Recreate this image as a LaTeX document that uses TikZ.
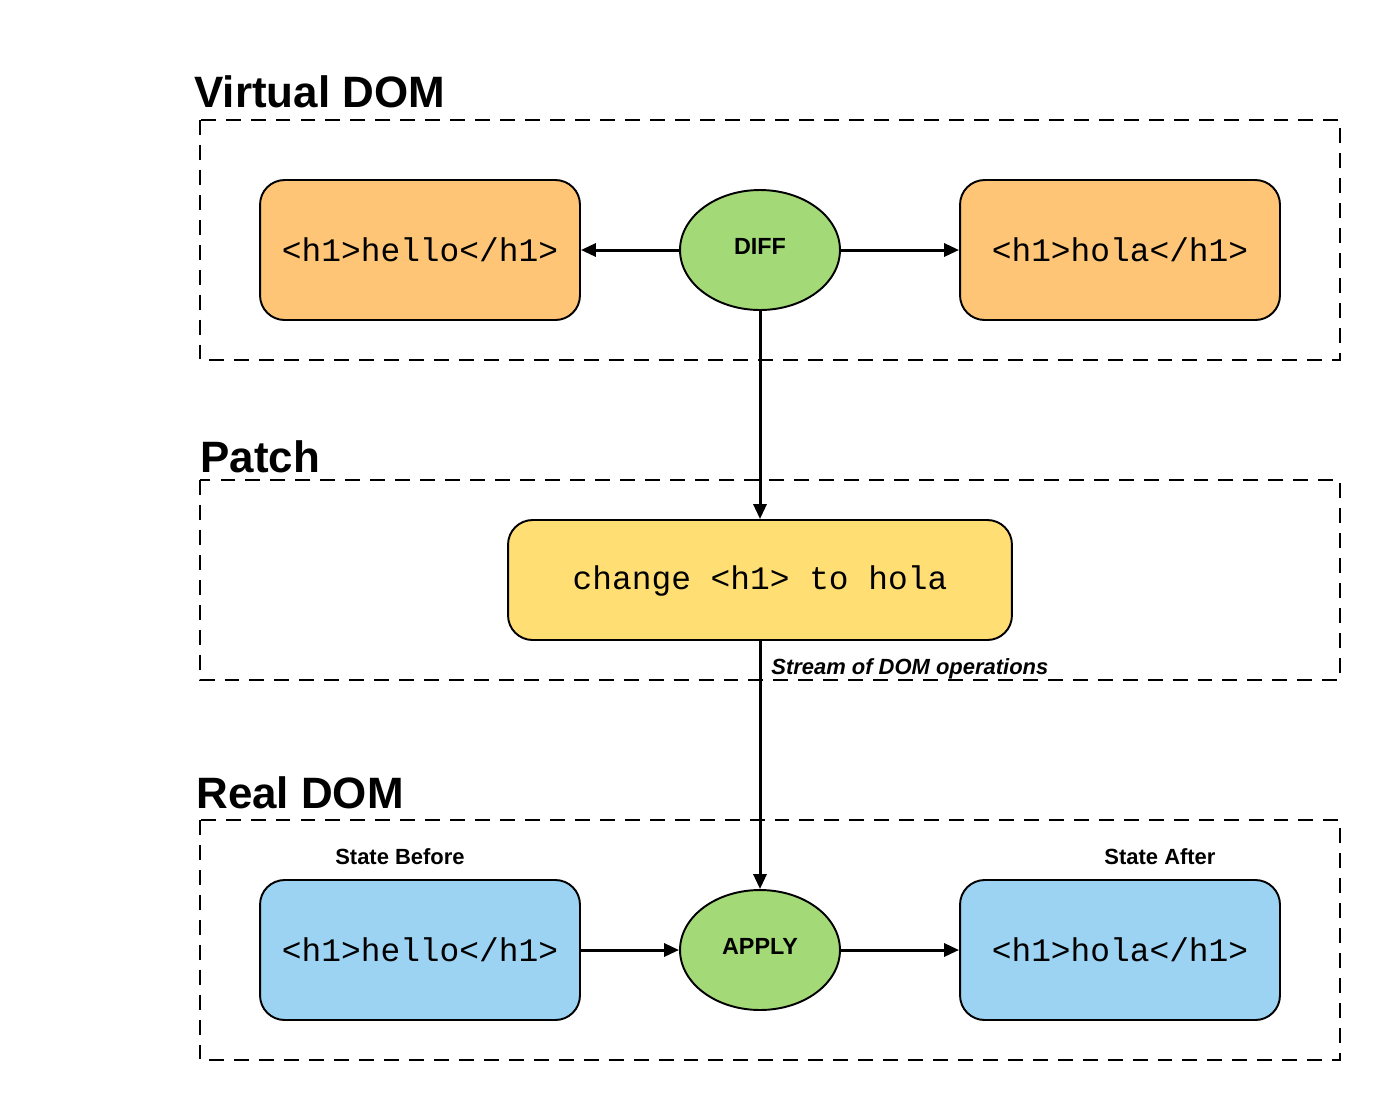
\documentclass[tikz,border=0pt]{standalone}
\usepackage{fontspec}
\setmainfont{Liberation Sans}
\setmonofont{Liberation Mono}
\usetikzlibrary{arrows.meta, shapes.geometric}

\definecolor{vdomorange}{HTML}{FEC576}
\definecolor{opgreen}{HTML}{A4D977}
\definecolor{patchyellow}{HTML}{FFDF73}
\definecolor{realblue}{HTML}{9DD3F2}

\tikzset{
  group/.style={draw=black, line width=1.1pt, dash pattern=on 8.5pt off 5.7pt},
  heading/.style={anchor=base west, font=\fontsize{25}{30}\selectfont\bfseries, inner sep=0pt},
  codebox/.style={draw=black, line width=1.1pt, rounded corners=14pt, minimum width=6.4cm, minimum height=2.8cm, font=\fontsize{18.7}{22}\ttfamily},
  opnode/.style={draw=black, ellipse, line width=1.1pt, fill=opgreen, minimum width=3.2cm, minimum height=2.4cm, inner sep=0pt, font=\fontsize{13.3}{16}\selectfont\bfseries},
  caption/.style={anchor=base, font=\fontsize{12.5}{15}\selectfont\bfseries, inner sep=0pt},
  flow/.style={-{Triangle[length=8.5pt,width=7.4pt]}, line width=1.7pt}
}

\begin{document}
\begin{tikzpicture}[x=0.02cm, y=-0.02cm]
\useasboundingbox (0,0) rectangle (1380,1100);

% groups
\draw[group] (200,120) rectangle (1340,360);
\draw[group] (200,480) rectangle (1340,680);
\draw[group] (200,820) rectangle (1340,1060);
\node[heading] (vdomlabel) at (194,107) {Virtual DOM};
\node[heading] (patchlabel) at (200,472) {Patch};
\node[heading] (reallabel) at (196,808) {Real DOM};

% virtual dom
\node[codebox, fill=vdomorange] (oldv) at (420,250) {<h1>hello</h1>};
\node[opnode] (diff) at (760,250) {};
\node[anchor=base, inner sep=0pt, font=\fontsize{13.3}{16}\selectfont\bfseries] (difflabel) at (760,254) {DIFF};
\node[codebox, fill=vdomorange] (newv) at (1120,250) {<h1>hola</h1>};

% patch
\node[codebox, fill=patchyellow, minimum width=10.08cm, minimum height=2.4cm] (patch) at (760,580) {};
\node[anchor=base, inner sep=0pt, font=\fontsize{18.7}{22}\ttfamily] (patchtext) at (760,589) {change <h1> to hola};
\node[anchor=base west, inner sep=0pt, font=\fontsize{12.5}{15}\selectfont\bfseries\itshape] (streamlabel) at (771,674) {Stream of DOM operations};

% real dom
\node[caption] (beforelabel) at (400,864) {State Before};
\node[caption] (afterlabel) at (1160,864) {State After};
\node[codebox, fill=realblue] (oldr) at (420,950) {<h1>hello</h1>};
\node[opnode] (apply) at (760,950) {};
\node[anchor=base, inner sep=0pt, font=\fontsize{13.3}{16}\selectfont\bfseries] (applylabel) at (760,954) {APPLY};
\node[codebox, fill=realblue] (newr) at (1120,950) {<h1>hola</h1>};

% connectors
\draw[flow] (diff) -- (oldv);
\draw[flow] (diff) -- (newv);
\draw[flow] (diff.south) -- (patch.north);
\draw[flow] (patch.south) -- (apply.north);
\draw[flow] (oldr) -- (apply);
\draw[flow] (apply) -- (newr);
\end{tikzpicture}
\end{document}
